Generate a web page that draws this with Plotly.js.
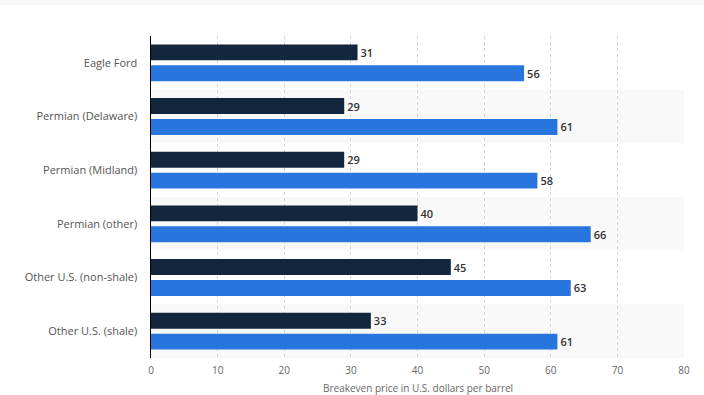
<!DOCTYPE html>
<html><head><meta charset="utf-8">
<script src="https://cdn.plot.ly/plotly-3.0.1.min.js"></script>
<style>html,body{margin:0;padding:0;background:#fff;overflow:hidden;}#strip{position:absolute;left:0;top:0;width:704px;height:5px;background:#f6f7f9;z-index:10;}</style>
</head><body>
<div id="strip"></div>
<div id="chart" style="width:704px;height:395px;"></div>
<script>
const categories = ["Eagle Ford", "Permian (Delaware)", "Permian (Midland)", "Permian (other)", "Other U.S. (non-shale)", "Other U.S. (shale)"];
const seriesDark = [31, 29, 29, 40, 45, 33];
const seriesBlue = [56, 61, 58, 66, 63, 61];
const xTicks = [0, 10, 20, 30, 40, 50, 60, 70, 80];
const xTitle = "Breakeven price in U.S. dollars per barrel";

const labelFont = {family: "Open Sans, sans-serif", size: 11, color: "#333", weight: 600};
const traces = [
  {type: "bar", orientation: "h", y: categories, x: seriesDark, name: "a",
   marker: {color: "#12263d"}, text: seriesDark.map(String), textposition: "outside",
   textfont: labelFont, cliponaxis: false, hoverinfo: "none"},
  {type: "bar", orientation: "h", y: categories, x: seriesBlue, name: "b",
   marker: {color: "#2876dd"}, text: seriesBlue.map(String), textposition: "outside",
   textfont: labelFont, cliponaxis: false, hoverinfo: "none"}
];
const shapes = [];
categories.forEach((c, i) => {
  if (i % 2 === 1) {
    shapes.push({type: "rect", xref: "paper", yref: "y", x0: 0, x1: 1, y0: i - 0.5, y1: i + 0.5,
      fillcolor: "#f9f9f9", line: {width: 0}, layer: "below"});
  }
});
const layout = {
  width: 704, height: 395,
  margin: {l: 151, r: 20, t: 36, b: 37},
  paper_bgcolor: "#fff", plot_bgcolor: "rgba(0,0,0,0)",
  showlegend: false,
  barmode: "group", bargap: 0.22, bargroupgap: 0.24,
  shapes: shapes,
  annotations: [{text: xTitle, xref: "paper", yref: "paper", x: 0.5, y: 0, xanchor: "center", yanchor: "top",
    yshift: -21, showarrow: false, font: {family: "Open Sans, sans-serif", size: 10, color: "#666"}}],
  xaxis: {range: [0, 80], tickvals: xTicks, ticktext: xTicks.map(String),
    showgrid: true, gridcolor: "#d4d4d4", griddash: "dot", gridwidth: 1,
    zeroline: false, showline: false, ticks: "", ticklabelstandoff: 5,
    tickfont: {family: "Open Sans, sans-serif", size: 10, color: "#666"}},
  yaxis: {type: "category", autorange: "reversed", showgrid: false, zeroline: false,
    showline: true, linecolor: "#000", linewidth: 1.5, ticks: "", ticklabelstandoff: 10,
    tickfont: {family: "Open Sans, sans-serif", size: 11, color: "#555"}}
};
Plotly.newPlot("chart", traces, layout, {displayModeBar: false, staticPlot: true});
</script>
</body></html>
